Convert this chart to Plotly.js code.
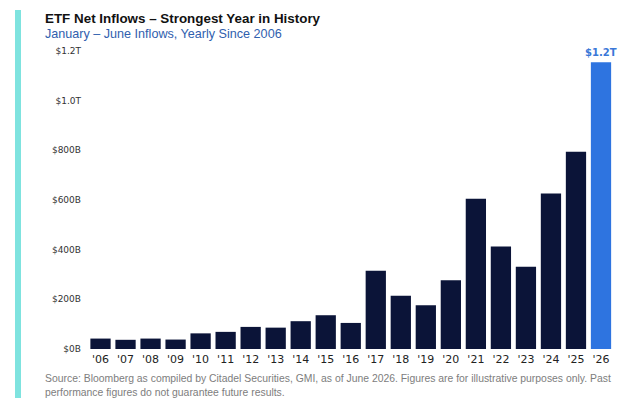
<!DOCTYPE html>
<html>
<head>
<meta charset="utf-8">
<script src="https://cdn.plot.ly/plotly-3.0.1.min.js"></script>
<style>html,body{margin:0;padding:0;background:#fff}#chart{width:635px;height:404px}</style>
</head>
<body>
<div id="chart"></div>
<script>
const categories = ["'06","'07","'08","'09","'10","'11","'12","'13","'14","'15","'16","'17","'18","'19","'20","'21","'22","'23","'24","'25","'26"];
const inflowsB = [42,37,42,38,63,69,89,86,112,136,105,315,214,176,277,605,413,331,626,794,1155];
const tickVals = [0,200,400,600,800,1000,1200];
const tickText = ["$0B","$200B","$400B","$600B","$800B","$1.0T","$1.2T"];
const highlightLabel = "$1.2T";

const navy = "#0b1438", blue = "#2e74e0";
const colors = inflowsB.map((v,i)=> i===inflowsB.length-1 ? blue : navy);
const L=88, R=16, T=51, B=55, W=635, H=404;
const pw=W-L-R, ph=H-T-B;
const px = x => (x-L)/pw;
const py = y => (H-B-y)/ph;

const trace = {
  type:'bar', x:categories, y:inflowsB,
  marker:{color:colors, line:{width:0}},
  hoverinfo:'skip'
};
const last = inflowsB.length-1;
const layout = {
  width:W, height:H,
  margin:{l:L,r:R,t:T,b:B,pad:0},
  paper_bgcolor:'#fff', plot_bgcolor:'#fff',
  bargap:0.19,
  showlegend:false,
  xaxis:{type:'category', showgrid:false, zeroline:false, showline:false, ticks:'',
    tickfont:{family:'DejaVu Sans', size:11, color:'#222'}, ticklabelstandoff:2},
  yaxis:{range:[0,1200], tickvals:tickVals, ticktext:tickText, showgrid:false, zeroline:false, showline:false, ticks:'',
    tickfont:{family:'DejaVu Sans', size:9, color:'#333'}, ticklabelstandoff:6},
  shapes:[{type:'rect', xref:'paper', yref:'paper', x0:px(15), x1:px(21), y0:py(398), y1:py(10),
    fillcolor:'#7fe3df', line:{width:0}, layer:'above'}],
  annotations:[
    {xref:'paper', yref:'paper', x:px(43), y:py(19), xanchor:'left', yanchor:'middle', showarrow:false,
      text:'<b>ETF Net Inflows – Strongest Year in History</b>', font:{family:'Liberation Sans, Arial', size:13.4, color:'#111'}},
    {xref:'paper', yref:'paper', x:px(43), y:py(34), xanchor:'left', yanchor:'middle', showarrow:false,
      text:'January – June Inflows, Yearly Since 2006', font:{family:'Liberation Sans, Arial', size:12.6, color:'#3060ae'}},
    {xref:'paper', yref:'paper', x:px(43), y:py(371), xanchor:'left', yanchor:'top', align:'left', showarrow:false,
      text:'Source: Bloomberg as compiled by Citadel Securities, GMI, as of June 2026. Figures are for illustrative purposes only. Past<br>performance figures do not guarantee future results.',
      font:{family:'Liberation Sans, Arial', size:10.4, color:'#7d7d7d'}},
    {x:categories[last], y:inflowsB[last], yanchor:'bottom', yshift:2, showarrow:false,
      text:'<b>'+highlightLabel+'</b>', font:{family:'DejaVu Sans', size:10, color:'#3a78d8'}}
  ]
};
Plotly.newPlot('chart',[trace],layout,{displayModeBar:false, staticPlot:true});
</script>
</body>
</html>
